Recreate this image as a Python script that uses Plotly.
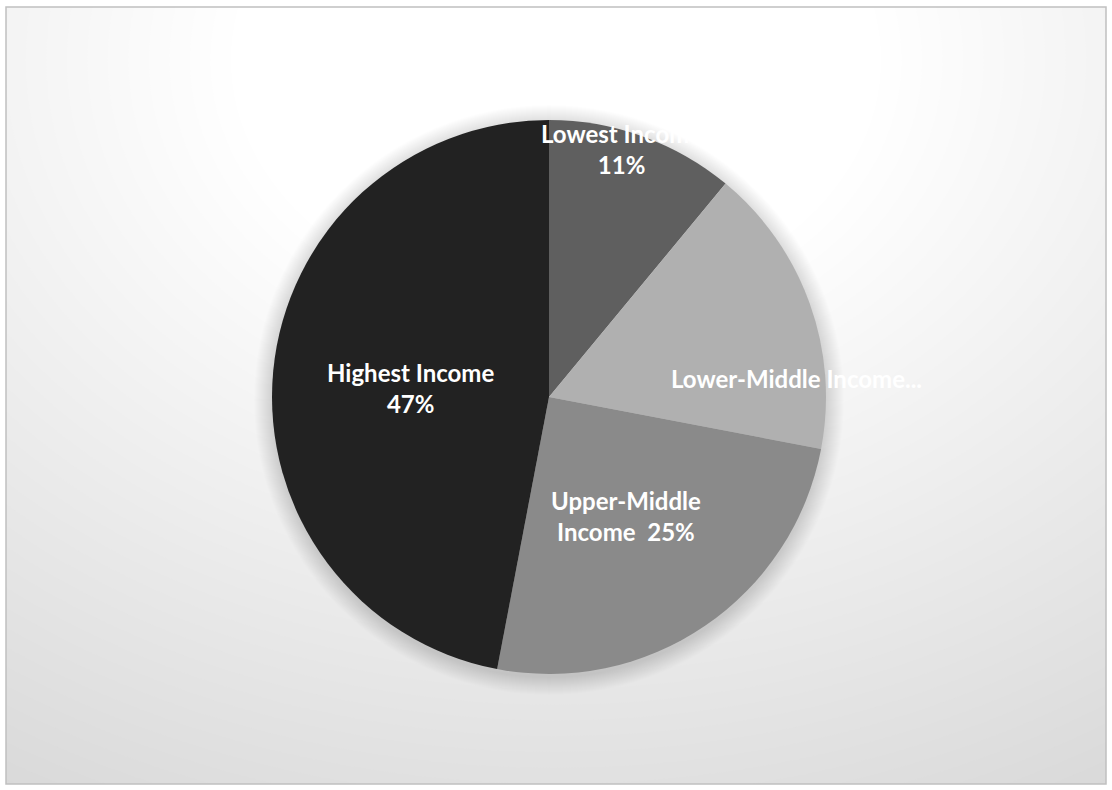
import plotly.graph_objects as go

# ---- data ----
categories = ["Lowest Income", "Lower-Middle Income", "Upper-Middle Income", "Highest Income"]
shares = [11, 17, 25, 47]
slice_colors = ["#5f5f5f", "#b0b0b0", "#8a8a8a", "#222222"]
label_texts = ["Lowest Income<br>11%", "Lower-Middle Income...",
               "Upper-Middle<br>Income  25%", "Highest Income<br>47%"]

W, H = 1112, 790
CX, CY, R = 549, 397, 277

def px(x):
    return x / W

def py(y):
    return 1 - y / H

fig = go.Figure()
fig.add_trace(go.Pie(
    labels=categories, values=shares, sort=False, direction="clockwise",
    rotation=0, marker=dict(colors=slice_colors, line=dict(width=0)),
    textinfo="none", hoverinfo="label+percent", showlegend=False,
    domain=dict(x=[px(CX - R), px(CX + R)], y=[py(CY + R), py(CY - R)]),
))

shapes = []
# background radial gradient (elliptical), drawn outer to inner
gx, gy = 556, 60
sx = 1.3
levels = list(range(217, 256))
d_in, d_out = 250, 850
for lv in levels:
    d = d_out - (lv - 217) / (255 - 217) * (d_out - d_in)
    c = f"rgb({lv},{lv},{lv})"
    shapes.append(dict(type="circle", xref="paper", yref="paper", layer="below",
                       x0=px(gx - d * sx), x1=px(gx + d * sx),
                       y0=py(gy + d), y1=py(gy - d),
                       fillcolor=c, line=dict(width=0)))
# white margins outside the chart frame
L, T, Rt, B = 6, 7, 1106, 784
for (a, b, c, d) in [(-50, -50, W + 50, T), (-50, B, W + 50, H + 50),
                     (-50, -50, L, H + 50), (Rt, -50, W + 50, H + 50)]:
    shapes.append(dict(type="rect", xref="paper", yref="paper", layer="below",
                       x0=px(a), x1=px(c), y0=py(d), y1=py(b),
                       fillcolor="white", line=dict(width=0)))
# frame
shapes.append(dict(type="rect", xref="paper", yref="paper", layer="below",
                   x0=px(L), x1=px(Rt), y0=py(B), y1=py(T),
                   fillcolor="rgba(0,0,0,0)", line=dict(color="#c0c0c0", width=1.5)))
# soft shadow around pie
for grow in range(18, 0, -1):
    rr = R + grow
    shapes.append(dict(type="circle", xref="paper", yref="paper", layer="below",
                       xsizemode="pixel", ysizemode="pixel",
                       xanchor=px(CX), yanchor=py(CY + 3),
                       x0=-rr, x1=rr, y0=-rr, y1=rr,
                       fillcolor="rgba(0,0,0,0.008)", line=dict(width=0)))

label_pos = [(621, 149), (796, 378), (626, 516), (410, 388)]
annotations = []
for t, (x, y) in zip(label_texts, label_pos):
    annotations.append(dict(text=t, x=px(x), y=py(y), xref="paper", yref="paper",
                            xanchor="center", yanchor="middle", showarrow=False,
                            align="center",
                            font=dict(family="Lato", size=24, color="white", weight="bold")))

fig.update_layout(
    width=W, height=H, margin=dict(l=0, r=0, t=0, b=0),
    paper_bgcolor="white", plot_bgcolor="white",
    shapes=shapes, annotations=annotations,
)
fig.write_html("out.html")
